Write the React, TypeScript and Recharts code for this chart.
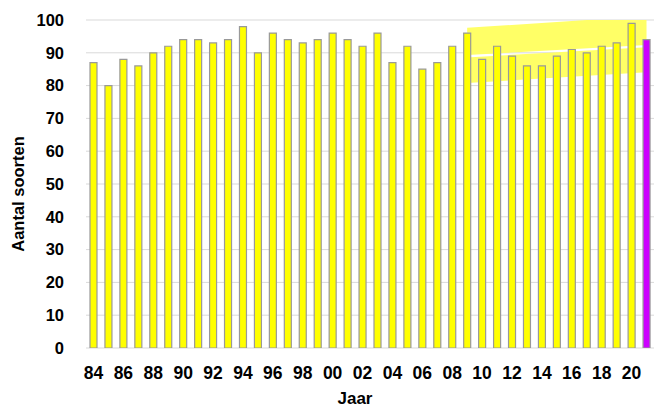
import { Area, Bar, CartesianGrid, Cell, ComposedChart, XAxis, YAxis } from "recharts";

const jaren = [
  "84", "85", "86", "87", "88", "89", "90", "91", "92", "93",
  "94", "95", "96", "97", "98", "99", "00", "01", "02", "03",
  "04", "05", "06", "07", "08", "09", "10", "11", "12", "13",
  "14", "15", "16", "17", "18", "19", "20", "21",
];

const soorten = [
  87, 80, 88, 86, 90, 92, 94, 94, 93, 94,
  98, 90, 96, 94, 93, 94, 96, 94, 92, 96,
  87, 92, 85, 87, 92, 96, 88, 92, 89, 86,
  86, 89, 91, 90, 92, 93, 99, 94,
];

// band endpoints (2009 and 2021), upper and lower part
const bandJaren = ["09", "21"];
const bovenLaag = [89.3, 92.4];
const bovenHoog = [97.6, 101.2];
const onderLaag = [80.8, 84.1];
const onderHoog = [88.6, 91.7];

const yTicks = [0, 10, 20, 30, 40, 50, 60, 70, 80, 90, 100];

const geel = "#ffff00";
const paars = "#cc00ff";

const data = jaren.map((jaar, i) => {
  const b = bandJaren.indexOf(jaar);
  return {
    jaar,
    aantal: soorten[i],
    boven: b >= 0 ? [bovenLaag[b], bovenHoog[b]] : null,
    onder: b >= 0 ? [onderLaag[b], onderHoog[b]] : null,
  };
});

const font = { fontFamily: "Liberation Sans, Arial, sans-serif", fontWeight: 700 };

export default function App() {
  return (
    <div style={{ position: "absolute", left: 0, top: 0, background: "#fff" }}>
      <ComposedChart
        width={657}
        height={407}
        data={data}
        margin={{ top: 20, right: 3, bottom: 0, left: 0 }}
        barCategoryGap={0}
      >
        <CartesianGrid vertical={false} stroke="#d9d9d9" />
        <XAxis
          dataKey="jaar"
          interval={1}
          axisLine={false}
          tickLine={false}
          tick={{ ...font, fontSize: 17.5, fill: "#000" }}
          tickMargin={13}
          height={59}
          label={{ value: "Jaar", position: "insideBottom", dx: -15, dy: 2, style: { ...font, fontSize: 17, fill: "#000" } }}
        />
        <YAxis
          domain={[0, 100]}
          ticks={yTicks}
          allowDataOverflow
          width={86}
          axisLine={false}
          tickLine={false}
          tick={{ ...font, fontSize: 16.5, fill: "#000" }}
          tickMargin={16}
          label={{ value: "Aantal soorten", angle: -90, position: "insideLeft", dx: 13, dy: 10, style: { ...font, fontSize: 16.5, fill: "#000", textAnchor: "middle" } }}
        />
        <Area
          dataKey="boven"
          type="linear"
          connectNulls
          stroke="none"
          fill="#ffff66"
          fillOpacity={1}
          isAnimationActive={false}
        />
        <Area
          dataKey="onder"
          type="linear"
          connectNulls
          stroke="none"
          fill="#ffff66"
          fillOpacity={1}
          isAnimationActive={false}
        />
        <Bar dataKey="aantal" barSize={7} stroke="#999999" strokeWidth={1.2} isAnimationActive={false}>
          {data.map((_, i) => (
            <Cell key={i} fill={i === data.length - 1 ? paars : geel} />
          ))}
        </Bar>
      </ComposedChart>
    </div>
  );
}
